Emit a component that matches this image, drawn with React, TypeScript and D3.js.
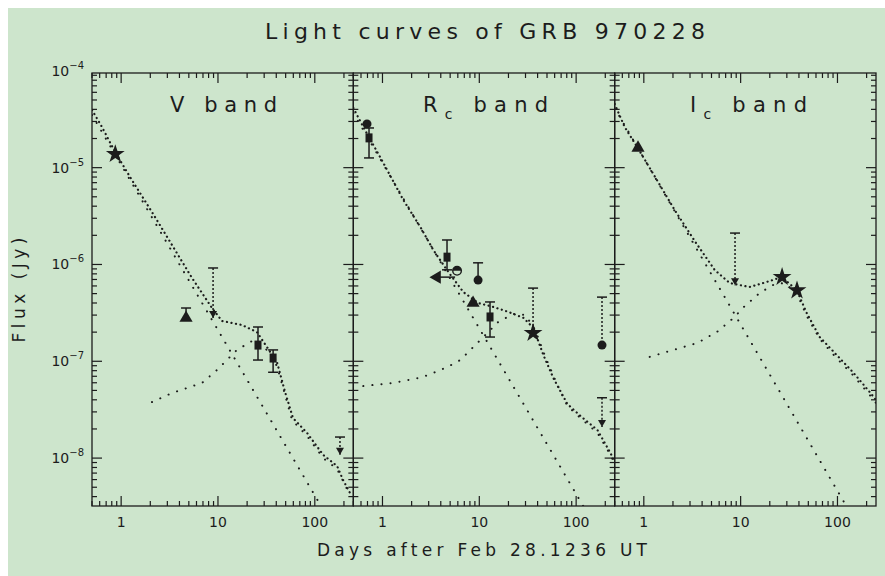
import React from 'react';
import * as d3 from 'd3';

// ---------- text ----------
const TITLE = 'Light curves of GRB 970228';
const X_LABEL = 'Days after Feb 28.1236 UT';
const Y_LABEL = 'Flux (Jy)';
const BAND_NAMES = ['V', 'R', 'I'];
const BAND_SUBS = ['', 'c', 'c'];

// ---------- axes ----------
const X_DOMAIN: [number, number] = [0.5, 250];
const Y_DOMAIN: [number, number] = [3.2e-9, 9.5e-5];
const X_TICK_LABELS = [1, 10, 100];
const Y_TICK_VALUES = [1e-8, 1e-7, 1e-6, 1e-5, 1e-4];
const Y_TICK_EXPS = ['−8', '−7', '−6', '−5', '−4'];

// ---------- model curves [days, Jy] ----------
const vTotal = [[0.5, 3.94e-5], [0.634, 2.63e-5], [0.865, 1.45e-5], [1.29, 7.46e-6], [2.08, 3.48e-6], [3.35, 1.59e-6], [5.4, 7.24e-7], [8.68, 3.55e-7], [11.0, 2.61e-7], [17.7, 2.37e-7], [25.3, 2.0e-7], [32.1, 1.4e-7], [40.7, 9.8e-8], [49.3, 4.82e-8], [59.6, 2.59e-8], [83.2, 1.82e-8], [122, 1.08e-8], [170, 8.28e-9], [196, 5.93e-9], [231, 4.36e-9]];
const vPowerLaw = [[0.5, 3.5e-5], [250, 8.6e-10]];
const vSN = [[2.08, 3.79e-8], [3.35, 4.7e-8], [6.84, 5.97e-8], [9.77, 8.13e-8], [15.7, 1.31e-7], [22.5, 1.62e-7], [29.9, 1.44e-7], [40.7, 8.93e-8], [58.2, 2.47e-8], [83.2, 1.69e-8], [122, 1.0e-8], [170, 7.71e-9], [231, 4.15e-9]];

const rTotal = [[0.5, 4.13e-5], [0.634, 2.63e-5], [1.02, 1.12e-5], [1.64, 4.64e-6], [2.46, 2.44e-6], [3.35, 1.41e-6], [4.79, 8.36e-7], [6.84, 5.19e-7], [9.77, 4.0e-7], [14.0, 3.64e-7], [20.0, 3.23e-7], [28.5, 2.81e-7], [36.2, 2.21e-7], [45.9, 1.16e-7], [58.2, 6.71e-8], [81.2, 3.62e-8], [111, 2.72e-8], [166, 1.95e-8], [226, 1.13e-8], [250, 9.1e-9]];
const rPowerLaw = [[0.5, 3.67e-5], [250, 8.9e-10]];
const rSN = [[0.634, 5.55e-8], [1.29, 5.97e-8], [2.35, 6.71e-8], [2.98, 7.22e-8], [4.68, 8.72e-8], [6.37, 1.03e-7], [9.77, 1.58e-7], [15.7, 2.55e-7], [22.5, 3.08e-7], [29.9, 3.01e-7], [37.9, 2.1e-7], [48.1, 1.11e-7], [64.1, 5.69e-8], [81.2, 3.45e-8], [111, 2.59e-8], [166, 1.82e-8], [226, 1.08e-8], [250, 8.69e-9]];

const iTotal = [[0.5, 4.55e-5], [0.634, 2.63e-5], [0.865, 1.6e-5], [1.29, 8.2e-6], [2.08, 3.66e-6], [3.35, 1.75e-6], [5.4, 8.77e-7], [7.71, 6.43e-7], [12.4, 5.85e-7], [18.6, 6.59e-7], [26.6, 7.42e-7], [37.9, 5.45e-7], [48.1, 3.15e-7], [65.6, 1.78e-7], [93.7, 1.22e-7], [144, 7.74e-8], [215, 4.82e-8], [250, 3.98e-8]];
const iPowerLaw = [[0.5, 4.13e-5], [250, 9.5e-10]];
const iSN = [[1.15, 1.11e-7], [3.6, 1.55e-7], [4.57, 1.78e-7], [5.66, 2.0e-7], [8.68, 2.87e-7], [10.5, 3.55e-7], [15.7, 5.07e-7], [22.5, 6.28e-7], [28.5, 6.43e-7], [37.9, 5.07e-7], [48.1, 2.94e-7], [65.6, 1.7e-7], [93.7, 1.13e-7], [144, 7.22e-8], [215, 4.49e-8], [250, 3.71e-8]];

// ---------- measurements ----------
// t: days, f: Jy, lo/hi: flux error range, tlo/thi: time range
const vPoints = [
  { t: 0.87, f: 1.38e-5, m: 'star' },
  { t: 4.68, f: 2.8e-7, m: 'tri', hi: 3.55e-7 },
  { t: 25.9, f: 1.47e-7, m: 'square', lo: 1.03e-7, hi: 2.26e-7 },
  { t: 37.1, f: 1.08e-7, m: 'square', lo: 7.7e-8, hi: 1.31e-7 },
];
const vLimits = [
  { t: 8.9, lim: 9.2e-7, tip: 2.8e-7 },
  { t: 182, lim: 1.65e-8, tip: 1.08e-8 },
];
const rPoints = [
  { t: 0.692, f: 2.83e-5, m: 'circle' },
  { t: 0.726, f: 2.03e-5, m: 'square', lo: 1.26e-5, hi: 2.57e-5 },
  { t: 4.64, f: 1.19e-6, m: 'square', lo: 8.8e-7, hi: 1.79e-6 },
  { t: 3.66, f: 7.4e-7, m: 'triL', tlo: 3.33, thi: 5.62 },
  { t: 5.89, f: 8.6e-7, m: 'half' },
  { t: 9.71, f: 6.9e-7, m: 'circle', hi: 1.04e-6 },
  { t: 8.62, f: 4.0e-7, m: 'tri' },
  { t: 12.9, f: 2.87e-7, m: 'square', lo: 1.78e-7, hi: 4.1e-7 },
];
const rLimits = [
  { t: 35.9, lim: 5.7e-7, tip: 1.96e-7, m: 'star' },
  { t: 185, lim: 4.6e-7, tip: 1.47e-7, m: 'circle' },
  { t: 185, lim: 4.2e-8, tip: 2.1e-8 },
];
const iPoints = [
  { t: 0.871, f: 1.6e-5, m: 'tri' },
  { t: 26.8, f: 7.42e-7, m: 'star' },
  { t: 38.2, f: 5.4e-7, m: 'star' },
];
const iLimits = [
  { t: 8.75, lim: 2.11e-6, tip: 6.1e-7 },
];

const INK = '#1c1c1c';
const BG = 'rgb(205,229,204)';

function Marker({ m, cx, cy }: { m: string; cx: number; cy: number }) {
  if (m === 'circle') return <circle cx={cx} cy={cy} r={4.5} fill={INK} />;
  if (m === 'half')
    return (
      <g>
        <circle cx={cx} cy={cy} r={4.3} fill="none" stroke={INK} strokeWidth={1.4} />
        <path d={`M${cx - 4.3},${cy} A4.3,4.3 0 0 1 ${cx + 4.3},${cy} Z`} fill={INK} />
      </g>
    );
  if (m === 'square') return <rect x={cx - 3.5} y={cy - 4.5} width={7} height={9} fill={INK} />;
  const type = m === 'star' ? d3.symbolStar : d3.symbolTriangle;
  const size = m === 'star' ? 110 : 75;
  const rot = m === 'triL' ? -90 : 0;
  return <path d={d3.symbol().type(type).size(size)() as string} transform={`translate(${cx},${cy}) rotate(${rot})`} fill={INK} />;
}

export default function App() {
  const W = 885, H = 576;
  const left = 92, right = 876, top = 73, bottom = 506;
  const pw = (right - left) / 3;
  const y = d3.scaleLog().domain(Y_DOMAIN).range([bottom, top]);

  const panels = [
    { total: vTotal, pl: vPowerLaw, sn: vSN, pts: vPoints, lims: vLimits },
    { total: rTotal, pl: rPowerLaw, sn: rSN, pts: rPoints, lims: rLimits },
    { total: iTotal, pl: iPowerLaw, sn: iSN, pts: iPoints, lims: iLimits },
  ];
  const labelStarts = [170, 423, 690];
  const labelWidths = [107, 125, 117];

  const yMinor = y.ticks(40).filter((v) => v >= Y_DOMAIN[0] && v <= Y_DOMAIN[1]);
  const isMajor = (v: number) => Math.abs(Math.log10(v) - Math.round(Math.log10(v))) < 1e-6;

  return (
    <svg width={W} height={H} style={{ position: 'fixed', left: 0, top: 0 }} fontFamily="DejaVu Sans">
      <rect width={W} height={H} fill="#fff" />
      <rect x={8} y={8} width={W - 8} height={H - 8} fill={BG} />
      <defs>
        {panels.map((_, i) => (
          <clipPath id={`clip${i}`} key={i}>
            <rect x={left + i * pw} y={top} width={pw} height={bottom - top} />
          </clipPath>
        ))}
      </defs>

      <text x={485} y={39} textAnchor="middle" fontSize={22} fill={INK} textLength={440} lengthAdjust="spacing">
        {TITLE}
      </text>

      {panels.map((p, i) => {
        const x0 = left + i * pw;
        const x = d3.scaleLog().domain(X_DOMAIN).range([x0, x0 + pw]);
        const line = d3.line<number[]>().x((d) => x(d[0])).y((d) => y(d[1]));
        const xMinor = x.ticks(30).filter((v) => v >= X_DOMAIN[0] && v <= X_DOMAIN[1]);
        return (
          <g key={i}>
            {/* frame */}
            <rect x={x0} y={top} width={pw} height={bottom - top} fill="none" stroke={INK} strokeWidth={1.3} />
            {/* x ticks */}
            {xMinor.map((v, k) => {
              const len = isMajor(v) ? 10 : 5;
              return (
                <g key={k} stroke={INK} strokeWidth={1.2}>
                  <line x1={x(v)} x2={x(v)} y1={bottom} y2={bottom - len} />
                  <line x1={x(v)} x2={x(v)} y1={top} y2={top + len} />
                </g>
              );
            })}
            {/* y ticks */}
            {yMinor.map((v, k) => {
              const len = isMajor(v) ? 10 : 5;
              return (
                <g key={k} stroke={INK} strokeWidth={1.2}>
                  <line x1={x0} x2={x0 + len} y1={y(v)} y2={y(v)} />
                  <line x1={x0 + pw} x2={x0 + pw - len} y1={y(v)} y2={y(v)} />
                </g>
              );
            })}
            {/* x tick labels */}
            {X_TICK_LABELS.map((v) => (
              <text key={v} x={x(v)} y={527} textAnchor="middle" fontSize={14} fill={INK}>
                {v}
              </text>
            ))}
            {/* curves */}
            <g clipPath={`url(#clip${i})`} fill="none" stroke={INK} strokeLinecap="round">
              <path d={line(p.total) as string} strokeWidth={2.2} strokeDasharray="0.1 4.5" />
              <path d={line(p.pl) as string} strokeWidth={2} strokeDasharray="0.1 9" />
              <path d={line(p.sn) as string} strokeWidth={2} strokeDasharray="0.1 9" />
            </g>
            {/* error bars */}
            {p.pts.map((d: any, k: number) => (
              <g key={k} stroke={INK} strokeWidth={1.5}>
                {d.hi !== undefined && (
                  <>
                    <line x1={x(d.t)} x2={x(d.t)} y1={y(d.f)} y2={y(d.hi)} />
                    <line x1={x(d.t) - 5} x2={x(d.t) + 5} y1={y(d.hi)} y2={y(d.hi)} />
                  </>
                )}
                {d.lo !== undefined && (
                  <>
                    <line x1={x(d.t)} x2={x(d.t)} y1={y(d.f)} y2={y(d.lo)} />
                    <line x1={x(d.t) - 5} x2={x(d.t) + 5} y1={y(d.lo)} y2={y(d.lo)} />
                  </>
                )}
                {d.tlo !== undefined && <line x1={x(d.tlo)} x2={x(d.thi)} y1={y(d.f)} y2={y(d.f)} />}
              </g>
            ))}
            {/* upper limits */}
            {p.lims.map((d: any, k: number) => {
              const cx = x(d.t), y1 = y(d.lim), y2 = y(d.tip);
              return (
                <g key={k}>
                  <line x1={cx - 5} x2={cx + 5} y1={y1} y2={y1} stroke={INK} strokeWidth={1.5} />
                  <line x1={cx} x2={cx} y1={y1} y2={y2} stroke={INK} strokeWidth={1.5} strokeDasharray="2 2" />
                  {d.m ? (
                    <Marker m={d.m} cx={cx} cy={y2} />
                  ) : (
                    <path d={`M${cx - 4},${y2 - 7} L${cx},${y2} L${cx + 4},${y2 - 7} Z`} fill={INK} />
                  )}
                </g>
              );
            })}
            {/* markers */}
            {p.pts.map((d: any, k: number) => (
              <Marker key={k} m={d.m} cx={x(d.t)} cy={y(d.f)} />
            ))}
            {/* band label */}
            <text x={labelStarts[i]} y={112} fontSize={21} fill={INK} textLength={labelWidths[i]} lengthAdjust="spacing">
              {BAND_NAMES[i]}
              {BAND_SUBS[i] && (
                <tspan fontSize={14} dy={7}>
                  {BAND_SUBS[i]}
                </tspan>
              )}
              <tspan dy={BAND_SUBS[i] ? -7 : 0}>{'  band'}</tspan>
            </text>
          </g>
        );
      })}

      {/* y tick labels */}
      {Y_TICK_VALUES.map((v, k) => (
        <text key={k} x={84} y={y(v) + 5} textAnchor="end" fontSize={14} fill={INK}>
          10
          <tspan fontSize={10} dy={-7}>
            {Y_TICK_EXPS[k]}
          </tspan>
        </text>
      ))}

      <text x={482} y={556} textAnchor="middle" fontSize={17} fill={INK} textLength={330} lengthAdjust="spacing">
        {X_LABEL}
      </text>
      <text transform="translate(25,290) rotate(-90)" textAnchor="middle" fontSize={17} fill={INK} textLength={105} lengthAdjust="spacing">
        {Y_LABEL}
      </text>
    </svg>
  );
}
